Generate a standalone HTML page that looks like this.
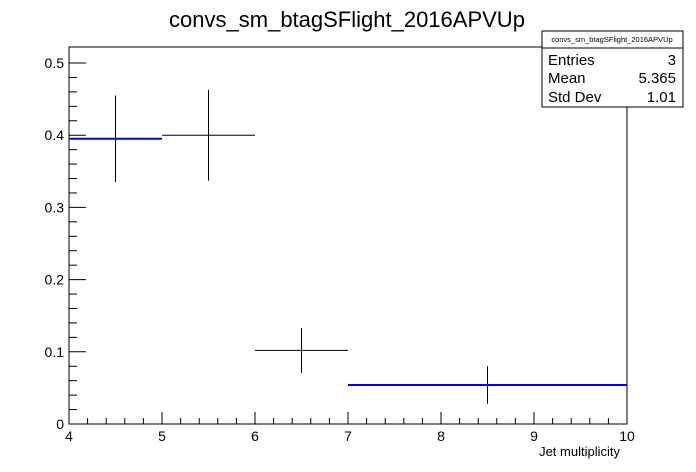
<!DOCTYPE html>
<html><head><meta charset="utf-8"><style>
body{margin:0;background:#fff}
svg{display:block;font-family:"Liberation Sans",sans-serif}
</style></head><body>
<svg id="c" width="696" height="472">
<text x="347" y="27" font-size="22" text-anchor="middle">convs_sm_btagSFlight_2016APVUp</text>
<rect x="69" y="47" width="558" height="377" fill="none" stroke="#000" stroke-width="1"/>
<g id="axes"></g>
<g id="marks"></g>
<text x="620" y="456" font-size="13" text-anchor="end">Jet multiplicity</text>
<g>
<rect x="542" y="31" width="141" height="76" fill="#fff" stroke="#000"/>
<line x1="542" y1="48" x2="683" y2="48" stroke="#000"/>
<text x="612" y="42" font-size="7.5" text-anchor="middle">convs_sm_btagSFlight_2016APVUp</text>
<text x="548" y="65" font-size="15">Entries</text><text x="676" y="65" font-size="15" text-anchor="end">3</text>
<text x="548" y="83" font-size="15">Mean</text><text x="676" y="83" font-size="15" text-anchor="end">5.365</text>
<text x="548" y="102" font-size="15">Std Dev</text><text x="676" y="102" font-size="15" text-anchor="end">1.01</text>
</g>
</svg>
<script>
const binLow=[4,5,6,7];
const binHigh=[5,6,7,10];
const values=[0.395,0.40,0.102,0.054];
const errors=[0.06,0.063,0.031,0.026];
const blueBins=[0,3];
const xTicks=[4,5,6,7,8,9,10];
const yTicks=[0,0.1,0.2,0.3,0.4,0.5];
const NS="http://www.w3.org/2000/svg";
const X=v=>69+(v-4)*93;
const Y=v=>424-v*722;
const axes=document.getElementById('axes'),marks=document.getElementById('marks');
function ln(g,x1,y1,x2,y2,c,w){const l=document.createElementNS(NS,'line');l.setAttribute('x1',x1);l.setAttribute('y1',y1);l.setAttribute('x2',x2);l.setAttribute('y2',y2);l.setAttribute('stroke',c||'#000');l.setAttribute('stroke-width',w||1);g.appendChild(l);return l;}
function tx(g,x,y,s,a){const t=document.createElementNS(NS,'text');t.setAttribute('x',x);t.setAttribute('y',y);t.setAttribute('font-size',14);t.setAttribute('text-anchor',a);t.textContent=s;g.appendChild(t);return t;}
for(let v=4;v<=10.001;v+=0.2){const maj=Math.abs(v-Math.round(v))<1e-6;const l=ln(axes,X(v),424,X(v),424-(maj?12:6));

}
xTicks.forEach(v=>{const t=tx(axes,X(v),441,String(v),'middle');

});
for(let v=0;v<=0.52;v+=0.02){const maj=Math.abs(v*10-Math.round(v*10))<1e-6;const l=ln(axes,69,Y(v),69+(maj?17:8),Y(v));

}
yTicks.forEach(v=>{const t=tx(axes,64,Y(v)+5,v===0?'0':v.toFixed(1),'end');

});
values.forEach((v,i)=>{const xc=(binLow[i]+binHigh[i])/2;
const h=ln(marks,X(binLow[i]),Y(v),X(binHigh[i]),Y(v));


const e=ln(marks,X(xc),Y(v+errors[i]),X(xc),Y(v-errors[i]));

});
blueBins.forEach(i=>{const b=ln(marks,X(binLow[i]),Y(values[i]),X(binHigh[i]),Y(values[i]),'#0000ee',2);

});
</script>
</body></html>
